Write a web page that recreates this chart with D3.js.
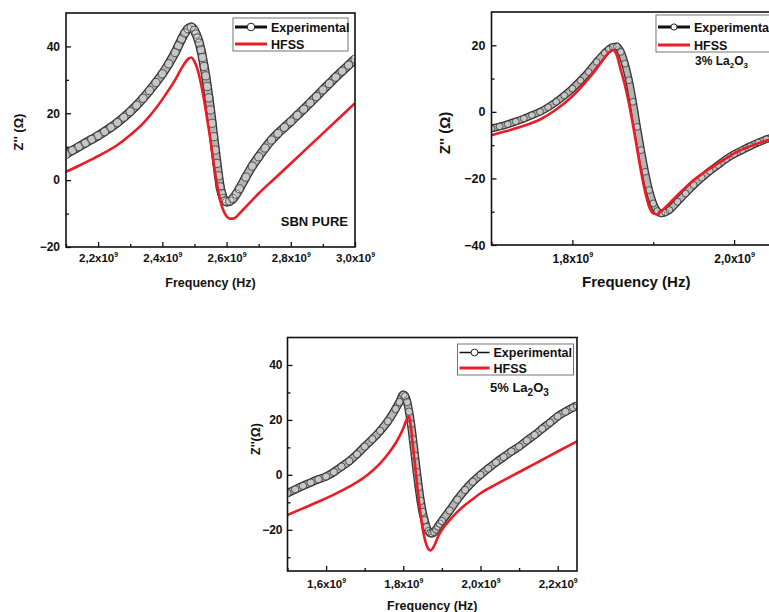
<!DOCTYPE html>
<html>
<head>
<meta charset="utf-8">
<script src="https://cdnjs.cloudflare.com/ajax/libs/d3/7.8.5/d3.min.js"></script>
<style>
  body { margin: 0; background: #fff; }
  text { font-family: "Liberation Sans", Arial, sans-serif; font-weight: bold; fill: #111; }
</style>
</head>
<body>
<div id="viz-container"></div>
<script>
// frequencies in units of 10^9 Hz, Z'' in ohm

// ---- SBN PURE ----
let sbnExpFreq = [2.10,2.12,2.14,2.16,2.18,2.20,2.22,2.24,2.26,2.28,2.30,2.32,2.34,2.36,2.38,2.40,2.42,2.44,2.45,2.46,2.47,2.48,2.49,2.50,2.505,2.51,2.515,2.52,2.525,2.53,2.535,2.54,2.545,2.55,2.555,2.56,2.565,2.57,2.575,2.58,2.585,2.59,2.595,2.60,2.61,2.62,2.63,2.64,2.66,2.68,2.70,2.72,2.74,2.76,2.78,2.80,2.82,2.84,2.86,2.88,2.90,2.92,2.94,2.96,2.98,3.00];
let sbnExp = [7.7,8.9,10.0,11.1,12.2,13.3,14.5,15.8,17.2,18.8,20.5,22.4,24.5,26.8,29.2,31.8,34.8,38.2,40.2,42.2,44.0,45.3,45.8,44.8,43.7,42.5,41.0,39.0,36.7,34.0,31.2,28.0,24.6,21.0,17.0,13.0,9.0,5.0,1.3,-2.0,-4.0,-5.5,-6.2,-6.5,-6.3,-5.5,-4.2,-2.6,0.9,4.2,7.0,9.6,12.0,14.0,15.8,17.5,19.4,21.2,23.1,25.0,27.0,28.9,30.8,32.6,34.4,36.2];
let sbnHfssFreq = [2.10,2.14,2.18,2.22,2.26,2.30,2.34,2.38,2.42,2.44,2.46,2.48,2.49,2.50,2.51,2.52,2.53,2.54,2.55,2.56,2.57,2.58,2.59,2.60,2.61,2.62,2.63,2.64,2.66,2.68,2.70,2.75,2.80,2.85,2.90,2.95,3.00];
let sbnHfss = [2.5,4.3,6.2,8.2,10.5,13.5,17.0,21.5,27.0,30.0,33.5,36.2,36.7,35.5,33.0,29.0,24.0,18.0,12.0,5.0,-1.0,-6.0,-9.0,-10.8,-11.5,-11.5,-11.0,-10.0,-8.0,-6.0,-4.0,0.5,5.0,9.5,14.0,18.5,23.0];
let sbnXTicks = [2.2, 2.4, 2.6, 2.8, 3.0];
let sbnXMinor = [2.1, 2.3, 2.5, 2.7, 2.9];
let sbnYTicks = [-20, 0, 20, 40];
let sbnYMinor = [-10, 10, 30];

// ---- 3% La2O3 ----
let la3ExpFreq = [1.70,1.71,1.72,1.73,1.74,1.75,1.76,1.77,1.78,1.79,1.80,1.81,1.82,1.83,1.84,1.845,1.85,1.855,1.86,1.865,1.87,1.875,1.88,1.885,1.89,1.895,1.90,1.905,1.91,1.915,1.92,1.93,1.94,1.95,1.96,1.97,1.98,1.99,2.00,2.01,2.02,2.03,2.04,2.05,2.06];
let la3Exp = [-5.0,-4.4,-3.7,-2.9,-2.0,-1.0,0.0,1.4,3.0,4.9,7.0,9.4,12.0,15.0,17.7,18.8,19.5,19.7,18.0,14.5,9.5,3.0,-4.5,-11.5,-18.0,-23.5,-27.5,-29.8,-30.5,-30.2,-29.5,-27.0,-24.5,-22.0,-19.8,-17.8,-16.0,-14.2,-12.7,-11.5,-10.3,-9.2,-8.2,-7.4,-6.6];
let la3HfssFreq = [1.70,1.72,1.74,1.76,1.78,1.80,1.82,1.83,1.84,1.845,1.85,1.855,1.86,1.865,1.87,1.875,1.88,1.885,1.89,1.895,1.90,1.905,1.91,1.92,1.93,1.94,1.95,1.96,1.97,1.98,1.99,2.00,2.02,2.04,2.06];
let la3Hfss = [-7.0,-5.7,-4.2,-2.3,0.7,4.7,10.0,13.0,16.3,17.8,18.6,17.0,12.5,8.0,2.5,-4.0,-11.0,-18.0,-24.0,-28.5,-30.5,-30.8,-29.8,-27.5,-25.0,-22.7,-20.5,-18.7,-17.0,-15.5,-14.0,-12.5,-10.3,-8.6,-7.2];
let la3XTicks = [1.8, 2.0];
let la3XMinor = [1.7, 1.9];
let la3YTicks = [-40, -20, 0, 20];
let la3YMinor = [-30, -10, 10];

// ---- 5% La2O3 ----
let la5ExpFreq = [1.50,1.52,1.54,1.56,1.58,1.60,1.62,1.64,1.66,1.68,1.70,1.72,1.74,1.76,1.78,1.79,1.80,1.805,1.81,1.815,1.82,1.825,1.83,1.835,1.84,1.845,1.85,1.855,1.86,1.865,1.87,1.875,1.88,1.885,1.89,1.895,1.90,1.92,1.94,1.96,1.98,2.00,2.02,2.04,2.06,2.08,2.10,2.12,2.14,2.16,2.18,2.20,2.22,2.24,2.25];
let la5Exp = [-6.7,-5.3,-4.0,-2.8,-1.6,-0.6,1.0,3.0,5.0,7.5,10.3,13.0,16.0,19.5,24.0,26.5,29.2,28.6,26.5,23.0,18.5,13.0,7.0,1.0,-4.5,-9.5,-13.5,-16.5,-19.0,-20.5,-21.2,-21.3,-20.8,-19.9,-18.8,-17.8,-16.8,-13.0,-9.0,-5.5,-2.5,0.0,2.3,4.5,6.5,8.5,10.3,12.5,14.5,16.8,19.0,21.3,23.0,24.5,25.2];
let la5HfssFreq = [1.50,1.54,1.58,1.62,1.66,1.70,1.72,1.74,1.76,1.78,1.79,1.80,1.81,1.815,1.82,1.825,1.83,1.835,1.84,1.845,1.85,1.855,1.86,1.865,1.87,1.875,1.88,1.89,1.90,1.92,1.94,1.96,1.98,2.00,2.04,2.08,2.12,2.16,2.20,2.25];
let la5Hfss = [-14.6,-12.2,-9.8,-7.2,-4.3,-0.8,1.5,4.2,7.5,11.5,14.0,17.0,20.5,21.3,17.0,10.5,4.0,-2.5,-9.0,-14.5,-19.5,-23.0,-25.5,-27.0,-27.5,-27.0,-25.8,-22.5,-20.0,-16.5,-13.5,-11.0,-8.8,-6.7,-3.5,-0.5,2.5,5.5,8.5,12.2];
let la5XTicks = [1.6, 1.8, 2.0, 2.2];
let la5XMinor = [1.5, 1.7, 1.9, 2.1];
let la5YTicks = [-20, 0, 20, 40];
let la5YMinor = [-30, -10, 10, 30];

let seriesNames = ["Experimental", "HFSS"];
let red = "#ec1c24";

let viz = d3.select("#viz-container")
  .append("svg")
    .attr("width", 769)
    .attr("height", 612)
;

let commaFmt = d => d3.format(".1f")(d).replace(".", ",");

function drawPanel(p, id) {
  let g = viz.append("g");
  let x = d3.scaleLinear().domain(p.xDomain).range([p.left, p.right]);
  let y = d3.scaleLinear().domain(p.yDomain).range([p.bottom, p.top]);

  g.append("clipPath").attr("id", "clip" + id)
    .append("rect")
      .attr("x", p.left).attr("y", p.top)
      .attr("width", p.right - p.left).attr("height", p.bottom - p.top);

  // inward ticks, major then minor
  let gx = g.append("g").attr("transform", `translate(0,${p.bottom})`)
    .call(d3.axisBottom(x).tickValues(p.xTicks).tickSize(-5).tickPadding(p.xPad).tickFormat(commaFmt));
  gx.selectAll(".tick text")
    .attr("font-size", p.tickFont)
    .each(function() {
      let t = d3.select(this);
      t.text(t.text() + "x10");
      t.append("tspan").attr("dy", -p.tickFont * 0.45).attr("font-size", p.tickFont * 0.6).text("9");
    });
  g.append("g").attr("transform", `translate(0,${p.bottom})`)
    .call(d3.axisBottom(x).tickValues(p.xMinor).tickSize(-3).tickFormat(""));

  let gy = g.append("g").attr("transform", `translate(${p.left},0)`)
    .call(d3.axisLeft(y).tickValues(p.yTicks).tickSize(-5).tickPadding(p.yPad));
  gy.selectAll(".tick text").attr("font-size", p.yFont);
  g.append("g").attr("transform", `translate(${p.left},0)`)
    .call(d3.axisLeft(y).tickValues(p.yMinor).tickSize(-3).tickFormat(""));

  g.selectAll(".domain").remove();
  g.selectAll(".tick line").attr("stroke", "#111").attr("stroke-width", 1.3);

  let plot = g.append("g").attr("clip-path", `url(#clip${id})`);
  let line = d3.line().x(d => x(d[0])).y(d => y(d[1])).curve(d3.curveMonotoneX);
  let exp = d3.zip(p.expFreq, p.exp);
  let hfss = d3.zip(p.hfssFreq, p.hfss);

  // experimental: dense open circles -> dark-edged band, circle outlines on top
  plot.append("path").datum(exp).attr("d", line)
    .attr("fill", "none").attr("stroke", "#333").attr("stroke-width", p.r * 2 + 1);
  plot.append("path").datum(exp).attr("d", line)
    .attr("fill", "none").attr("stroke", "#b4b4b4").attr("stroke-width", p.r * 2 - 1.6);
  plot.selectAll("circle.exp").data(exp).join("circle")
    .attr("class", "exp")
    .attr("cx", d => x(d[0]))
    .attr("cy", d => y(d[1]))
    .attr("r", p.r)
    .attr("fill", "#fff").attr("fill-opacity", 0.25)
    .attr("stroke", "#3a3a3a").attr("stroke-width", 0.8);

  plot.append("path").datum(hfss).attr("d", line)
    .attr("fill", "none").attr("stroke", red).attr("stroke-width", 2.6);

  // frame
  g.append("rect")
    .attr("x", p.left).attr("y", p.top)
    .attr("width", p.right - p.left).attr("height", p.bottom - p.top)
    .attr("fill", "none").attr("stroke", "#111").attr("stroke-width", 1.6);

  // axis titles
  g.append("text")
    .attr("x", (p.left + Math.min(p.right, 769)) / 2 + p.titleShift)
    .attr("y", p.xTitleY)
    .attr("text-anchor", "middle")
    .attr("font-size", p.titleFont)
    .text("Frequency (Hz)");
  g.append("text")
    .attr("transform", `translate(${p.yTitleX},${p.yTitleCy}) rotate(-90)`)
    .attr("text-anchor", "middle")
    .attr("font-size", p.yTitleFont)
    .text(p.yTitle);

  // legend
  let L = p.legend;
  g.append("rect")
    .attr("x", L.x).attr("y", L.y).attr("width", L.w).attr("height", L.h)
    .attr("fill", "none").attr("stroke", "#666").attr("stroke-width", 0.9);
  g.append("line")
    .attr("x1", L.x + 2).attr("x2", L.x + 2 + L.len)
    .attr("y1", L.row1).attr("y2", L.row1)
    .attr("stroke", "#111").attr("stroke-width", L.expLine);
  g.append("circle")
    .attr("cx", L.x + 2 + L.len / 2).attr("cy", L.row1).attr("r", p.r - 0.3)
    .attr("fill", "#fff").attr("stroke", "#222").attr("stroke-width", 1);
  g.append("line")
    .attr("x1", L.x + 2).attr("x2", L.x + 2 + L.len)
    .attr("y1", L.row2).attr("y2", L.row2)
    .attr("stroke", red).attr("stroke-width", 3);
  g.selectAll("text.leg").data(seriesNames).join("text")
    .attr("class", "leg")
    .attr("x", L.x + L.len + 6)
    .attr("y", (d, i) => (i === 0 ? L.row1 : L.row2) + L.font * 0.36)
    .attr("font-size", L.font)
    .text(d => d);

  return g;
}

let p1 = drawPanel({
  xDomain: [2.1, 3.0], yDomain: [-20, 50],
  left: 66, right: 355, top: 13, bottom: 247,
  xTicks: sbnXTicks, xMinor: sbnXMinor, yTicks: sbnYTicks, yMinor: sbnYMinor,
  expFreq: sbnExpFreq, exp: sbnExp, hfssFreq: sbnHfssFreq, hfss: sbnHfss,
  r: 4.1, tickFont: 11.5, yFont: 12, xPad: 7, yPad: 6,
  titleFont: 12.5, titleShift: 0, xTitleY: 287,
  yTitle: "Z'' (\u03A9)", yTitleFont: 13, yTitleX: 23, yTitleCy: 132,
  legend: { x: 233, y: 18, w: 115, h: 33, len: 32, row1: 27, row2: 44, font: 12.5, expLine: 3 }
}, 1);
p1.append("text").attr("x", 348).attr("y", 226).attr("text-anchor", "end")
  .attr("font-size", 13).text("SBN PURE");

let p2 = drawPanel({
  xDomain: [1.7, 2.058], yDomain: [-40, 30],
  left: 491.5, right: 781, top: 12, bottom: 245,
  xTicks: la3XTicks, xMinor: la3XMinor, yTicks: la3YTicks, yMinor: la3YMinor,
  expFreq: la3ExpFreq, exp: la3Exp, hfssFreq: la3HfssFreq, hfss: la3Hfss,
  r: 3.4, tickFont: 12, yFont: 12.5, xPad: 9, yPad: 6,
  titleFont: 15, titleShift: 6, xTitleY: 287,
  yTitle: "Z'' (\u03A9)", yTitleFont: 15, yTitleX: 450, yTitleCy: 133,
  legend: { x: 656, y: 15, w: 150, h: 37, len: 32, row1: 27, row2: 45, font: 12.5, expLine: 3 }
}, 2);
let t2 = p2.append("text").attr("x", 695).attr("y", 65).attr("font-size", 12);
t2.append("tspan").text("3% La");
t2.append("tspan").attr("dy", 3).attr("font-size", 8).text("2");
t2.append("tspan").attr("dy", -3).text("O");
t2.append("tspan").attr("dy", 3).attr("font-size", 8).text("3");

let p3 = drawPanel({
  xDomain: [1.5, 2.25], yDomain: [-35, 50],
  left: 287.5, right: 577, top: 337.5, bottom: 571,
  xTicks: la5XTicks, xMinor: la5XMinor, yTicks: la5YTicks, yMinor: la5YMinor,
  expFreq: la5ExpFreq, exp: la5Exp, hfssFreq: la5HfssFreq, hfss: la5Hfss,
  r: 3.7, tickFont: 11.5, yFont: 12, xPad: 9, yPad: 5,
  titleFont: 12.5, titleShift: 0, xTitleY: 610,
  yTitle: "Z''(\u03A9)", yTitleFont: 12.5, yTitleX: 259.5, yTitleCy: 439,
  legend: { x: 457.5, y: 344, w: 116, h: 31, len: 30, row1: 352.5, row2: 368, font: 12.5, expLine: 1.5 }
}, 3);
let t3 = p3.append("text").attr("x", 490).attr("y", 392).attr("font-size", 13);
t3.append("tspan").text("5% La");
t3.append("tspan").attr("dy", 4).attr("font-size", 10).text("2");
t3.append("tspan").attr("dy", -4).text("O");
t3.append("tspan").attr("dy", 4).attr("font-size", 10).text("3");
</script>
</body>
</html>
